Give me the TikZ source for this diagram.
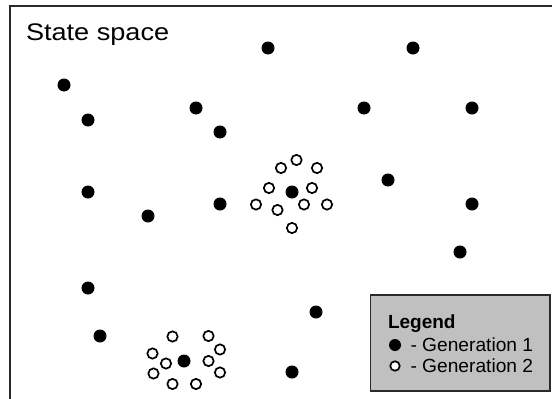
\documentclass[tikz,border=0pt]{standalone}
\usepackage{fontspec}
\setmainfont{Liberation Sans}
\usepackage{tikz}
\usetikzlibrary{positioning}
\usepackage{xcolor}
\definecolor{legendgray}{HTML}{C0C0C0}
\definecolor{framegray}{HTML}{2A2A2A}
\tikzset{
  gen1/.style   = {circle, fill=black, inner sep=0pt, minimum size=13pt},
  gen2/.style   = {circle, draw=black, fill=white, line width=1.7pt,
                   inner sep=0pt, minimum size=10.3pt},
  label/.style  = {anchor=base west, inner sep=0pt, outer sep=0pt},
}

\begin{document}
\begin{tikzpicture}[x=1pt,y=-1pt]
\useasboundingbox (0,0) rectangle (552,399);
% frame of the state space (runs off the right and bottom)
\draw[framegray,line width=2pt] (10,405) -- (10,6) -- (560,6);
\node[label,font=\fontsize{24}{28}\selectfont] (title) at (26,40)
  {\scalebox{1.13}[1]{State space}};
% first generation
\foreach \px/\py [count=\i] in {268/48, 413/48, 64/85, 88/120, 196/108,
    220/132, 364/108, 472/108, 88/192, 148/216, 220/204, 292/192,
    388/180, 472/204, 460/252, 88/288, 100/336, 316/312, 184/361, 292/372}
  \node[gen1] (g1-\i) at (\px,\py) {};
% second generation, around two of the parents
\foreach \px/\py [count=\i] in {296.5/160, 281/168, 317/168, 269/188,
    312/188, 256/204.5, 277.5/210, 304/204.5, 327/204.5, 292/228}
  \node[gen2] (ga-\i) at (\px,\py) {};
\foreach \px/\py [count=\i] in {172.5/336.5, 208.5/336, 220/349.5,
    152.5/353.5, 166/363.5, 208.5/361, 153.5/373.5, 220/372.5,
    172.5/384, 196/384}
  \node[gen2] (gb-\i) at (\px,\py) {};
% legend
\draw[framegray,fill=legendgray,line width=1.5pt] (370.5,295) rectangle (550,391);
\node[label,font=\bfseries\fontsize{19}{22}\selectfont] (leg) at (388,328)
  {\scalebox{1.0}[1]{Legend}};
\node[gen1,minimum size=12pt] (leg1) at (395,345) {};
\node[label,font=\fontsize{19}{22}\selectfont] (leg1txt) at (410.5,351)
  {\scalebox{1.01}[1]{- Generation 1}};
\node[gen2,minimum size=9.5pt] (leg2) at (395,366) {};
\node[label,font=\fontsize{19}{22}\selectfont] (leg2txt) at (410.5,372)
  {\scalebox{1.01}[1]{- Generation 2}};
\end{tikzpicture}
\end{document}
